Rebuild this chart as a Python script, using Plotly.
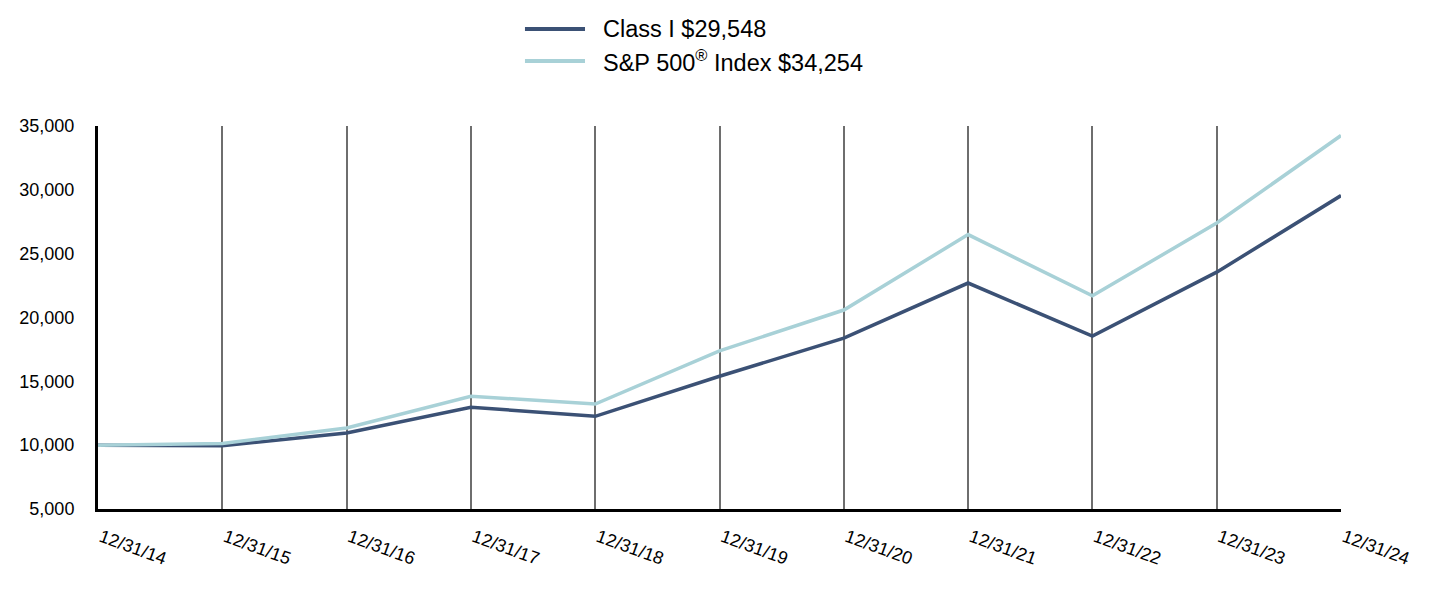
import plotly.graph_objects as go

dates = ["12/31/14", "12/31/15", "12/31/16", "12/31/17", "12/31/18", "12/31/19",
         "12/31/20", "12/31/21", "12/31/22", "12/31/23", "12/31/24"]
class_i = [10000, 9950, 10950, 12970, 12260, 15400, 18380, 22700, 18540, 23550, 29548]
sp500 = [10000, 10138, 11351, 13829, 13223, 17386, 20585, 26494, 21696, 27399, 34254]
yticks = [5000, 10000, 15000, 20000, 25000, 30000, 35000]
series_names = ["Class I $29,548", "S&P 500<sup>®</sup> Index $34,254"]
series_colors = ["#3b5175", "#a8d1d7"]

x = list(range(len(dates)))

fig = go.Figure()
for vals, name, col in zip([class_i, sp500], series_names, series_colors):
    fig.add_trace(go.Scatter(x=x, y=vals, mode="lines", name=name,
                             line=dict(color=col, width=3.5), showlegend=False))

# custom legend (long line samples like the reference)
legend_rows_y = [1.2533, 1.1697]
for name, col, ly in zip(series_names, series_colors, legend_rows_y):
    fig.add_shape(type="line", xref="paper", yref="paper",
                  x0=0.3435, x1=0.3918, y0=ly, y1=ly,
                  line=dict(color=col, width=4))
    fig.add_annotation(xref="paper", yref="paper", x=0.4047, y=ly,
                       xanchor="left", yanchor="middle", showarrow=False,
                       text=name, font=dict(size=23.5, color="#000000"))

fig.update_layout(
    width=1432, height=596,
    margin=dict(l=98, r=91, t=126, b=87),
    paper_bgcolor="white", plot_bgcolor="white",
    font=dict(family="Liberation Sans, Arial, sans-serif", color="#000000", size=18),
    showlegend=False,
    xaxis=dict(range=[0, 10], tickvals=x, ticktext=dates, tickangle=20,
               showgrid=True, gridcolor="#6e6e6e", gridwidth=2,
               showline=True, linecolor="#000000", linewidth=3,
               ticks="", zeroline=False, tickfont=dict(size=18),
               ticklabelstandoff=8, ticklabelshift=3),
    yaxis=dict(range=[5000, 35000], tickvals=yticks, tickformat=",",
               showgrid=False, showline=True, linecolor="#000000", linewidth=3,
               ticks="", zeroline=False, ticklabelstandoff=17, tickfont=dict(size=18)),
)

fig.write_html("out.html")
